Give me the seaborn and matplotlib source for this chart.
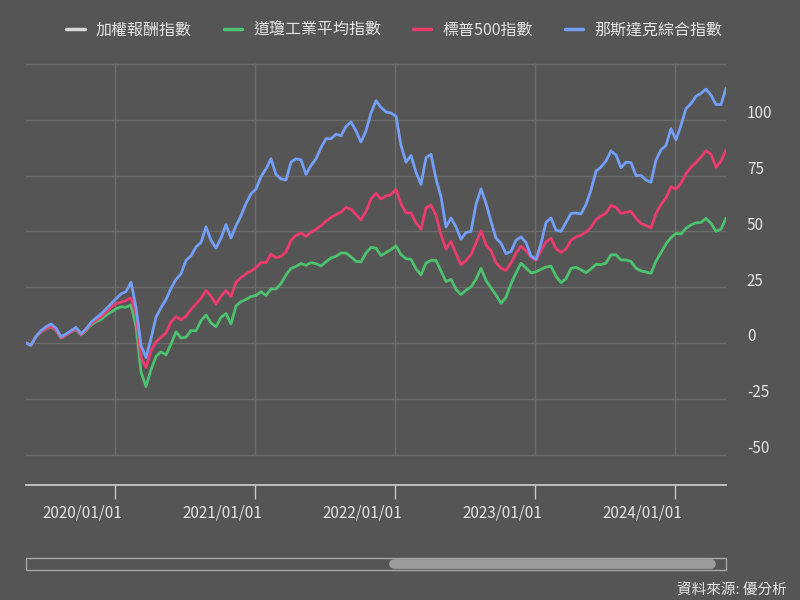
import pandas as pd
import matplotlib
matplotlib.use('Agg')
import matplotlib.pyplot as plt
import matplotlib.transforms as mtransforms
from matplotlib.lines import Line2D
from matplotlib.patches import Rectangle
import seaborn as sns

# Series names (legend order)
series_names = ['加權報酬指數', '道瓊工業平均指數', '標普500指數', '那斯達克綜合指數']
series_colors = ['#d8d8d8', '#4cc26e', '#ec3b6e', '#739ff7']

# Cumulative return (%), roughly every two weeks
start_date = '2019-05-14'
end_date = '2024-05-12'

dow = [0, -1, 2.8, 5, 6.2, 7.3, 5.6, 2.2, 3.5, 5, 6, 3.6, 5.5, 8, 9.5, 10.5, 12.4, 13.8, 15.3, 16.2,
       16, 17, 7.5, -13, -19.5, -12, -6, -4, -5.3, -0.5, 5, 2.2, 2.6, 5.6, 5.4, 10, 12.5, 9, 7.3, 11.5,
       13.2, 8.5, 16.6, 18.5, 19.5, 20.8, 21.3, 23, 21.3, 24.2, 24.2, 26.6, 30.5, 33.4, 34.3, 35.6, 34.8, 36, 35.5, 34.5,
       36.4, 38.1, 38.8, 40.3, 40.3, 38.6, 36.6, 36.3, 40.3, 42.8, 42.5, 39.2, 40.5, 41.8, 43.5, 39.6, 37.8, 37.5, 33.2, 30.5,
       35.8, 37, 37, 32.2, 27.5, 28.5, 24, 21.7, 23.6, 25.1, 28.5, 33.4, 28, 24.7, 21.5, 17.8, 20.5, 26.5, 31.3, 35.7,
       33.6, 31.4, 31.9, 33, 34, 34.4, 29.9, 27, 28.8, 33.4, 33.9, 32.8, 31.5, 33.2, 35.2, 35.1, 35.8, 39.5, 39.5, 37.2,
       37.2, 36.5, 33.5, 32.3, 31.8, 31.2, 36.7, 40.5, 44.4, 47.2, 49.1, 48.8, 51.4, 52.9, 53.8, 54, 55.8, 53.6, 50, 51,
       55.9]

sp500 = [0, -1, 2.8, 5, 6.3, 7.5, 5.8, 2.2, 3.5, 5, 6.3, 3.8, 5.8, 8.5, 10.2, 11.7, 13.7, 16, 17.6, 18.3,
         19, 20.2, 13, -6.5, -11, -3.5, 0.5, 2.6, 4.5, 9.4, 11.8, 10.4, 12, 15, 17.5, 20, 23.5, 21, 17.4, 21,
         23.5, 20.8, 27.2, 29.3, 31, 32.2, 33.8, 36, 36, 39.8, 38.2, 38.8, 40.8, 46, 48.2, 49.3, 47.8, 49.6, 50.9, 52.5,
         54.6, 56.2, 57.5, 58.6, 60.7, 60, 57.5, 55.1, 59, 64.5, 67, 64.5, 65.8, 66.5, 68.8, 62.3, 58.3, 58.3, 53.8, 51,
         60.5, 61.8, 57.2, 48.5, 42, 45.5, 40, 35, 37, 39.6, 44.7, 50.2, 44, 41.3, 36, 33.5, 32.5, 35.8, 40.2, 43.4,
         41.3, 38.5, 37, 41.5, 45.2, 46.9, 42.2, 40.6, 42, 46, 47.5, 48.3, 49.7, 51.8, 55.3, 56.8, 58.2, 61.6, 60.8, 58,
         58.6, 58.9, 55.9, 53.5, 52.6, 51.5, 58, 62, 65, 70, 68.9, 71.5, 75.9, 78.7, 80.9, 83.3, 86.1, 84.5, 78.7, 81.5,
         86.5]

nasdaq = [0, -1, 3, 5.5, 7.3, 8.5, 6.7, 2.8, 4, 5.5, 7, 4.2, 6.3, 9.2, 11.2, 13, 15.2, 17.5, 19.8, 22,
          23, 27.2, 16, -1, -6.5, 2, 11.5, 15.8, 19.5, 24.5, 28.5, 31, 37, 39, 43, 45, 52, 46, 42.5, 47,
          53, 47, 52.5, 57, 62.5, 66.8, 69, 74.5, 78, 82.5, 75.5, 73.5, 73, 81, 82.5, 82, 75.5, 79.5, 82.5, 87.5,
          91.5, 91.5, 93.5, 92.8, 97, 99, 95, 90, 95, 103, 108.5, 105.5, 103.5, 103, 101.5, 88.5, 81, 84, 76.5, 71,
          83, 84.5, 73.5, 65.5, 52, 56, 52, 46.5, 49.5, 50, 62, 69, 62.6, 54.5, 47, 44.7, 40, 41, 46, 47.5,
          45, 39, 37.5, 44.5, 54, 56, 50.5, 50, 54, 58, 58.2, 57.8, 62, 68.5, 77, 78.8, 81.5, 86, 84.2, 78.5,
          81, 80.8, 75, 75, 73, 72, 82, 86.5, 88.5, 96, 91, 97.5, 105, 107.2, 110.5, 111.8, 113.7, 111, 106.8, 106.8,
          114]

year_ticks = ['2020-01-01', '2021-01-01', '2022-01-01', '2023-01-01', '2024-01-01']
year_labels = ['2020/01/01', '2021/01/01', '2022/01/01', '2023/01/01', '2024/01/01']
y_ticks = [-50, -25, 0, 25, 50, 75, 100, 125]
y_labels = ['-50', '-25', '0', '25', '50', '75', '100', '']
source_text = '資料來源: 優分析'

dates = pd.date_range(start_date, end_date, periods=len(nasdaq))
df = pd.concat([
    pd.DataFrame({'date': dates, 'value': dow, 'series': series_names[1]}),
    pd.DataFrame({'date': dates, 'value': sp500, 'series': series_names[2]}),
    pd.DataFrame({'date': dates, 'value': nasdaq, 'series': series_names[3]}),
])

bg = '#555555'
grid_c = '#6c6c6c'
text_c = '#e4e4e4'

sns.set_style('dark')
plt.rcParams['font.family'] = ['Noto Sans CJK TC', 'DejaVu Sans']

fig = plt.figure(figsize=(8, 6), dpi=100, facecolor=bg)
ax = fig.add_axes([26 / 800, 1 - 485 / 600, 700 / 800, 422 / 600])
ax.set_facecolor(bg)

palette = dict(zip(series_names, series_colors))
sns.lineplot(data=df, x='date', y='value', hue='series', hue_order=series_names[1:],
             palette=palette, linewidth=2.0, legend=False, ax=ax)

ax.set_xlim(dates[0], dates[-1])
ax.set_ylim(-63.6, 125.4)

# grid
ax.set_yticks(y_ticks)
ax.set_yticklabels(y_labels)
ax.grid(axis='y', color=grid_c, linewidth=1)
ax.grid(axis='x', visible=False)
ax.vlines(pd.to_datetime(year_ticks), -50, 125.4, color=grid_c, linewidth=1, zorder=0)

ax.yaxis.tick_right()
ax.tick_params(axis='y', length=0, pad=15, labelsize=11, labelcolor=text_c)
for lbl in ax.get_yticklabels():
    lbl.set_horizontalalignment('left')
    lbl.set_transform(lbl.get_transform() + mtransforms.ScaledTranslation(0, 0.08, fig.dpi_scale_trans))

ax.set_xticks(pd.to_datetime(year_ticks))
ax.set_xticklabels(year_labels)
ax.tick_params(axis='x', bottom=True, direction='out', length=10, width=1, color='#c8c8c8', pad=4,
               labelsize=11, labelcolor=text_c)
for lbl in ax.get_xticklabels():
    lbl.set_transform(lbl.get_transform() + mtransforms.ScaledTranslation(-0.33, 0, fig.dpi_scale_trans))

for side in ['top', 'left', 'right']:
    ax.spines[side].set_visible(False)
ax.spines['bottom'].set_color('#c8c8c8')
ax.spines['bottom'].set_linewidth(1.3)
ax.set_xlabel('')
ax.set_ylabel('')

# legend
handles = [Line2D([0], [0], color=c, linewidth=2.5) for c in series_colors]
fig.legend(handles, series_names, loc='center', bbox_to_anchor=(0.493, 0.95), ncol=4,
           frameon=False, handlelength=1.15, handletextpad=0.7, columnspacing=2.0,
           fontsize=11.5, labelcolor=text_c)

# scrollbar
fig.add_artist(Rectangle((26 / 800, 1 - 570 / 600), 700 / 800, 12 / 600, transform=fig.transFigure,
                         fill=False, edgecolor='#a8a8a8', linewidth=1))
fig.add_artist(Line2D([394 / 800, 711 / 800], [1 - 564 / 600, 1 - 564 / 600], transform=fig.transFigure,
                      color='#9c9c9c', linewidth=7, solid_capstyle='round'))

fig.text(787 / 800, 1 - 591 / 600, source_text, ha='right', va='center', fontsize=10.5, color=text_c)

fig.savefig('out.png', dpi=100, facecolor=bg)
